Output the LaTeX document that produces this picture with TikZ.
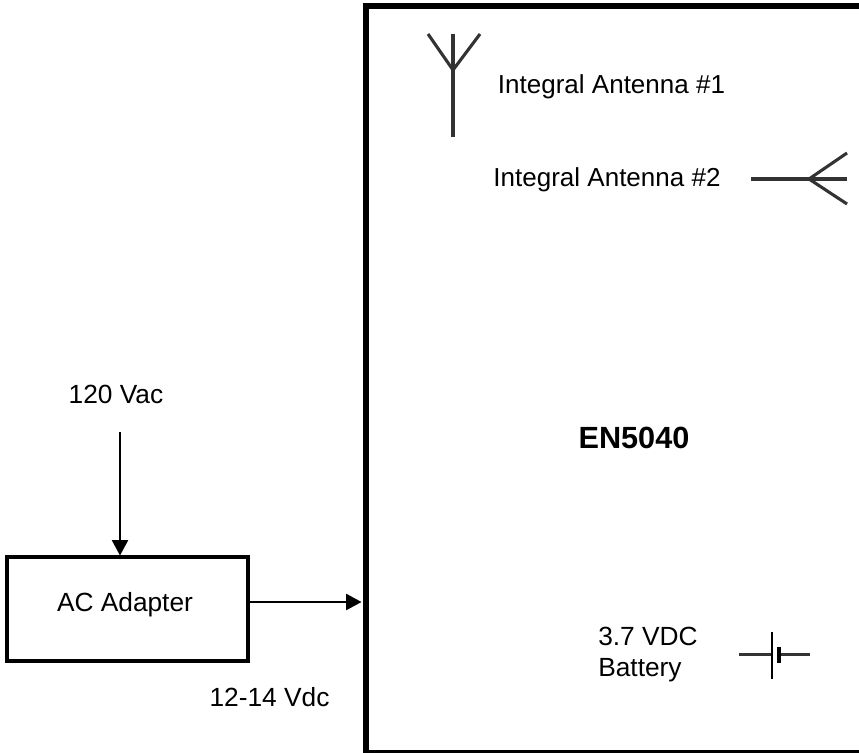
\documentclass[tikz,border=0pt]{standalone}
\usepackage{fontspec}
\setmainfont{Liberation Sans}
\usepackage{tikz}
\usetikzlibrary{arrows.meta,positioning,calc}
\tikzset{
  feed/.style={-{Triangle[length=11pt, width=11.5pt]}, line width=1.45pt, black},
  antline/.style={line width=2.2pt, black!80},
  batline/.style={line width=2.2pt, black!80},
  lbl/.style={inner sep=0pt, font=\fontsize{18.7pt}{22pt}\selectfont},
  blk/.style={draw, line width=2.9pt, inner sep=0pt},
  encl/.style={draw, line width=4.4pt, inner sep=0pt},
}
\begin{document}
\begin{tikzpicture}[x=0.025cm, y=-0.025cm]
\useasboundingbox (0,0) rectangle (859,753);
\node[encl, minimum width=12.5cm, minimum height=18.65cm] (unit) at (616,379.5) {};
\node[blk, minimum width=6.02cm, minimum height=2.6cm] (adapter) at (127.5,609) {};
% texts
\node[lbl] (adaptertxt) at (125,605) {AC Adapter};
\node[lbl] (mains) at (116,394) {120 Vac};
\node[lbl] (dc) at (269.5,697) {12-14 Vdc};
\node[lbl, font=\fontsize{18.5pt}{22pt}\selectfont] (ant1txt) at (611.5,87) {Integral Antenna \#1};
\node[lbl, font=\fontsize{18.5pt}{22pt}\selectfont] (ant2txt) at (607,180) {Integral Antenna \#2};
\node[lbl, font=\fontsize{21.8pt}{22pt}\selectfont\bfseries] (model) at (634,438) {EN5040};
\node[lbl, anchor=west, align=left] (battxt) at (598,655) {3.7 VDC\\Battery};
% power feed
\coordinate (mainsin) at (120,432);
\coordinate (mainsout) at (120,555.5);
\coordinate (dcout) at (250,602);
\coordinate (dcin) at (361.5,602);
\draw[feed] (mainsin) -- (mainsout);
\draw[feed] (dcout) -- (dcin);
% antenna 1
\coordinate (a1base) at (453,137);
\coordinate (a1fork) at (453,70);
\coordinate (a1tip) at (453,34);
\coordinate (a1l) at (428,34);
\coordinate (a1r) at (480,34);
\draw[antline] (a1base) -- (a1tip);
\draw[antline] (a1l) -- (a1fork) -- (a1r);
% antenna 2
\coordinate (a2base) at (751,179);
\coordinate (a2fork) at (809,179);
\coordinate (a2tip) at (847,179);
\coordinate (a2u) at (847,153);
\coordinate (a2d) at (847,204);
\draw[antline] (a2base) -- (a2tip);
\draw[antline] (a2u) -- (a2fork) -- (a2d);
% battery
\coordinate (batl) at (739,654.5);
\coordinate (batr) at (810,654.5);
\coordinate (plA1) at (772,632);
\coordinate (plA2) at (772,679);
\coordinate (plB1) at (779,647);
\coordinate (plB2) at (779,663);
\draw[batline] (batl) -- (plA1 |- batl);
\draw[batline] (plB1 |- batr) -- (batr);
\draw[line width=1.6pt] (plA1) -- (plA2);
\draw[line width=2.6pt] (plB1) -- (plB2);
\end{tikzpicture}
\end{document}
